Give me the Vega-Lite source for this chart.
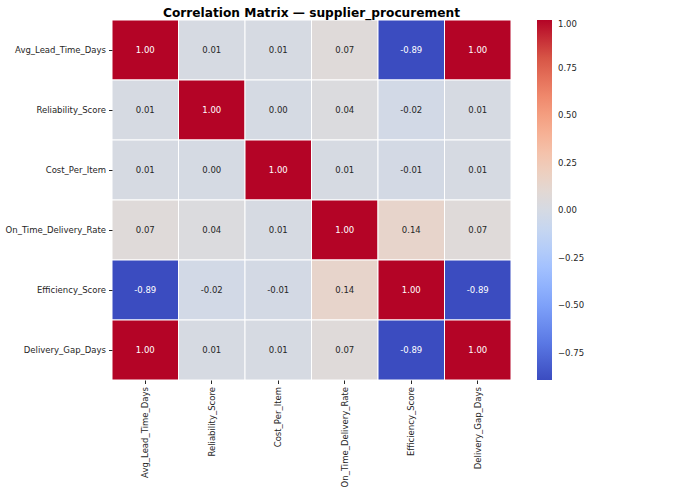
{
  "$schema": "https://vega.github.io/schema/vega-lite/v6.json",
  "width": 399,
  "height": 360,
  "autosize": {"type": "none"},
  "padding": {"left": 112, "top": 20, "right": 169, "bottom": 115},
  "title": {"text": "Correlation Matrix — supplier_procurement", "fontSize": 12.2, "fontWeight": "bold", "font": "DejaVu Sans", "color": "#000000", "offset": 0.5},
  "config": {
    "view": {"stroke": null},
    "font": "DejaVu Sans",
    "locale": {"number": {"decimal": ".", "thousands": ",", "grouping": [3], "currency": ["$", ""], "minus": "-"}}
  },
  "data": {"values": [
    {"x": "Avg_Lead_Time_Days", "y": "Avg_Lead_Time_Days", "v": 1.0},
    {"x": "Reliability_Score", "y": "Avg_Lead_Time_Days", "v": 0.01},
    {"x": "Cost_Per_Item", "y": "Avg_Lead_Time_Days", "v": 0.01},
    {"x": "On_Time_Delivery_Rate", "y": "Avg_Lead_Time_Days", "v": 0.07},
    {"x": "Efficiency_Score", "y": "Avg_Lead_Time_Days", "v": -0.894},
    {"x": "Delivery_Gap_Days", "y": "Avg_Lead_Time_Days", "v": 1.0},
    {"x": "Avg_Lead_Time_Days", "y": "Reliability_Score", "v": 0.01},
    {"x": "Reliability_Score", "y": "Reliability_Score", "v": 1.0},
    {"x": "Cost_Per_Item", "y": "Reliability_Score", "v": 0.0},
    {"x": "On_Time_Delivery_Rate", "y": "Reliability_Score", "v": 0.04},
    {"x": "Efficiency_Score", "y": "Reliability_Score", "v": -0.02},
    {"x": "Delivery_Gap_Days", "y": "Reliability_Score", "v": 0.01},
    {"x": "Avg_Lead_Time_Days", "y": "Cost_Per_Item", "v": 0.01},
    {"x": "Reliability_Score", "y": "Cost_Per_Item", "v": 0.0},
    {"x": "Cost_Per_Item", "y": "Cost_Per_Item", "v": 1.0},
    {"x": "On_Time_Delivery_Rate", "y": "Cost_Per_Item", "v": 0.01},
    {"x": "Efficiency_Score", "y": "Cost_Per_Item", "v": -0.01},
    {"x": "Delivery_Gap_Days", "y": "Cost_Per_Item", "v": 0.01},
    {"x": "Avg_Lead_Time_Days", "y": "On_Time_Delivery_Rate", "v": 0.07},
    {"x": "Reliability_Score", "y": "On_Time_Delivery_Rate", "v": 0.04},
    {"x": "Cost_Per_Item", "y": "On_Time_Delivery_Rate", "v": 0.01},
    {"x": "On_Time_Delivery_Rate", "y": "On_Time_Delivery_Rate", "v": 1.0},
    {"x": "Efficiency_Score", "y": "On_Time_Delivery_Rate", "v": 0.14},
    {"x": "Delivery_Gap_Days", "y": "On_Time_Delivery_Rate", "v": 0.07},
    {"x": "Avg_Lead_Time_Days", "y": "Efficiency_Score", "v": -0.894},
    {"x": "Reliability_Score", "y": "Efficiency_Score", "v": -0.02},
    {"x": "Cost_Per_Item", "y": "Efficiency_Score", "v": -0.01},
    {"x": "On_Time_Delivery_Rate", "y": "Efficiency_Score", "v": 0.14},
    {"x": "Efficiency_Score", "y": "Efficiency_Score", "v": 1.0},
    {"x": "Delivery_Gap_Days", "y": "Efficiency_Score", "v": -0.894},
    {"x": "Avg_Lead_Time_Days", "y": "Delivery_Gap_Days", "v": 1.0},
    {"x": "Reliability_Score", "y": "Delivery_Gap_Days", "v": 0.01},
    {"x": "Cost_Per_Item", "y": "Delivery_Gap_Days", "v": 0.01},
    {"x": "On_Time_Delivery_Rate", "y": "Delivery_Gap_Days", "v": 0.07},
    {"x": "Efficiency_Score", "y": "Delivery_Gap_Days", "v": -0.894},
    {"x": "Delivery_Gap_Days", "y": "Delivery_Gap_Days", "v": 1.0}
  ]},
  "encoding": {
    "x": {"field": "x", "type": "nominal", "sort": null, "title": null,
      "scale": {"paddingInner": 0, "paddingOuter": 0},
      "axis": {"labelAngle": -90, "labelAlign": "right", "labelBaseline": "middle", "labelFontSize": 8.5, "labelColor": "#262626", "domain": false, "tickColor": "#262626", "tickSize": 3.5, "labelPadding": 3, "labelFont": "DejaVu Sans"}},
    "y": {"field": "y", "type": "nominal", "sort": null, "title": null,
      "scale": {"paddingInner": 0, "paddingOuter": 0},
      "axis": {"labelFontSize": 8.5, "labelColor": "#262626", "domain": false, "tickColor": "#262626", "tickSize": 3.5, "labelPadding": 3, "labelFont": "DejaVu Sans"}}
  },
  "layer": [
    {
      "mark": {"type": "rect", "stroke": "white", "strokeWidth": 1},
      "encoding": {
        "color": {"field": "v", "type": "quantitative",
          "scale": {
            "domain": [-0.894, -0.7046, -0.5152, -0.3258, -0.1364, 0.053, 0.2424, 0.4318, 0.6212, 0.8106, 1.0],
            "range": ["#3b4cc0", "#5977e3", "#7b9ff9", "#9ebeff", "#c0d4f5", "#dddcdc", "#f2cbb7", "#f7ac8e", "#ee8468", "#d65244", "#b40426"],
            "interpolate": "rgb"
          },
          "legend": {
            "title": null, "orient": "none", "legendX": 425, "legendY": 0, "direction": "vertical",
            "gradientLength": 360, "gradientThickness": 15, "gradientStrokeWidth": 0,
            "values": [-0.75, -0.5, -0.25, 0, 0.25, 0.5, 0.75, 1.0],
            "format": ".2f",
            "labelExpr": "replace(datum.label, '-', '−')",
            "labelFontSize": 8.5, "labelColor": "#262626", "labelFont": "DejaVu Sans", "labelOffset": 6
          }
        }
      }
    },
    {
      "mark": {"type": "text", "fontSize": 8.5, "font": "DejaVu Sans"},
      "encoding": {
        "text": {"field": "v", "type": "quantitative", "format": ".2f"},
        "color": {"condition": {"test": "abs(datum.v) > 0.5", "value": "#ffffff"}, "value": "#262626"}
      }
    }
  ]
}
